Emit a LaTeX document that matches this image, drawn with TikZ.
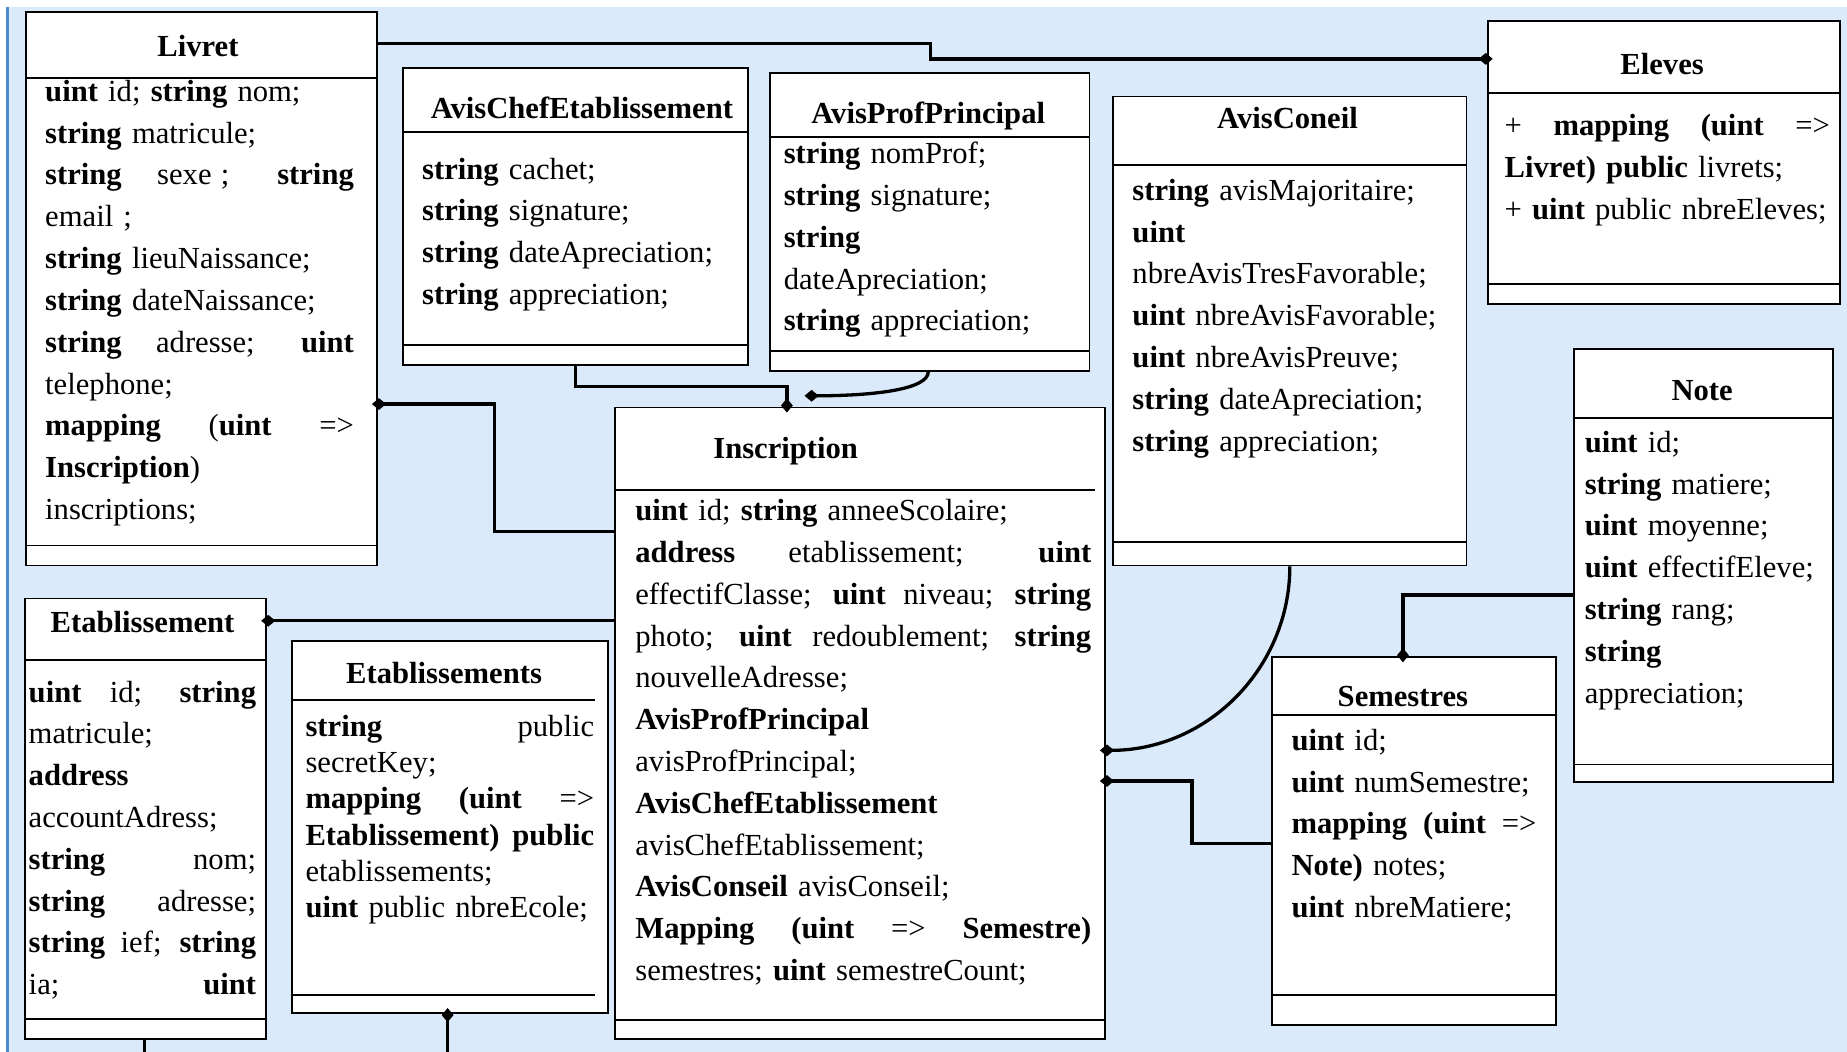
\documentclass[tikz,border=0pt]{standalone}
\usepackage{fontspec}
\setmainfont{Liberation Serif}
\usetikzlibrary{arrows.meta,fit}

\definecolor{canvas}{RGB}{219,234,250}
\definecolor{frameblue}{RGB}{78,136,208}

% a line whose inter-word spaces stretch to the full text width
% (the ragged node alignment makes spaces rigid, so give them stretch again)
\newcommand\jl[1]{\makebox[\linewidth][s]{\spaceskip=.3333em plus 20em\xspaceskip=.3333em plus 20em\relax #1}}

\tikzset{
  classbox/.style={draw=black, line width=0.75pt, fill=white, inner sep=0pt},
  sepline/.style={draw=black, line width=0.75pt},
  classtitle/.style={anchor=base, inner sep=0pt, font=\fontsize{13}{17.75}\selectfont\bfseries},
  attrs/.style={anchor=base west, inner sep=0pt, align=left, font=\fontsize{13}{17.75}\selectfont},
  link/.style={draw=black, line width=1.4pt, line join=miter},
  agg end/.style={-{Diamond[length=6pt,width=5pt]}, shorten >=-2.5pt},
  agg start/.style={{Diamond[length=6pt,width=5pt]}-, shorten <=-2.5pt},
}

\begin{document}
\begin{tikzpicture}[x=0.5pt,y=-0.5pt]
\useasboundingbox (0,0) rectangle (1568,893);

% page background
\fill[white] (0,0) rectangle (1568,893);
\fill[canvas] (7,6) rectangle (1568,893);
\draw[frameblue, line width=1pt] (6.5,6) -- (6.5,893);

% ---------- class boxes ----------
\node[classbox, fit={(22,10) (320,480)}] (livret) {};
\draw[sepline] (22,66) -- (320,66) (22,463) -- (320,463);
\node[classtitle] (livret-t) at (168,48) {Livret};
\node[attrs, text width=131pt] (livret-a) at (38,86) {%
\textbf{uint} id; \textbf{string} nom;\\
\textbf{string} matricule;\\
\jl{\textbf{string} sexe\hspace{.3em}; \textbf{string}}\\
email ;\\
\textbf{string} lieuNaissance;\\
\textbf{string} dateNaissance;\\
\jl{\textbf{string} adresse; \textbf{uint}}\\
telephone;\\
\jl{\textbf{mapping} (\textbf{uint} =>}\\
\textbf{Inscription})\\
inscriptions;};

\node[classbox, fit={(1263,18) (1562,258)}] (eleves) {};
\draw[sepline] (1263,79) -- (1562,79) (1263,241) -- (1562,241);
\node[classtitle] (eleves-t) at (1411,63) {Eleves};
\node[attrs, text width=138pt] (eleves-a) at (1277,115) {%
\jl{+ \textbf{mapping} \textbf{(uint} =>}\\
\textbf{Livret) public} livrets;\\
+ \textbf{uint} public nbreEleves;};

\node[classbox, fit={(342,58) (635,310)}] (avischef) {};
\draw[sepline] (342,112) -- (635,112) (342,293) -- (635,293);
\node[classtitle] (avischef-t) at (494,101) {AvisChefEtablissement};
\node[attrs, text width=135pt] (avischef-a) at (358,152) {%
\textbf{string} cachet;\\
\textbf{string} signature;\\
\textbf{string} dateApreciation;\\
\textbf{string} appreciation;};

\node[classbox, fit={(654,62) (925,315)}] (avisprof) {};
\draw[sepline] (654,116) -- (925,116) (654,298) -- (925,298);
\node[classtitle] (avisprof-t) at (788,105) {AvisProfPrincipal};
\node[attrs, text width=127pt] (avisprof-a) at (665,139) {%
\textbf{string} nomProf;\\
\textbf{string} signature;\\
\textbf{string}\\
dateApreciation;\\
\textbf{string} appreciation;};

\node[classbox, fit={(945,82) (1245,480)}] (avisconseil) {};
\draw[sepline] (945,140) -- (1245,140) (945,460) -- (1245,460);
\node[classtitle] (avisconseil-t) at (1093,109) {AvisConeil};
\node[attrs, text width=137pt] (avisconseil-a) at (961,170) {%
\textbf{string} avisMajoritaire;\\
\textbf{uint}\\
nbreAvisTresFavorable;\\
\textbf{uint} nbreAvisFavorable;\\
\textbf{uint} nbreAvisPreuve;\\
\textbf{string} dateApreciation;\\
\textbf{string} appreciation;};

\node[classbox, fit={(522,346) (938,882)}] (inscription) {};
\draw[sepline] (522,416) -- (930,416) (522,866) -- (938,866);
\node[classtitle] (inscription-t) at (667,389) {Inscription};
\node[attrs, text width=193.5pt] (inscription-a) at (539,442) {%
\textbf{uint} id; \textbf{string} anneeScolaire;\\
\jl{\textbf{address} etablissement; \textbf{uint}}\\
\jl{effectifClasse; \textbf{uint} niveau; \textbf{string}}\\
\jl{photo; \textbf{uint} redoublement; \textbf{string}}\\
nouvelleAdresse;\\
\textbf{AvisProfPrincipal}\\
avisProfPrincipal;\\
\textbf{AvisChefEtablissement}\\
avisChefEtablissement;\\
\textbf{AvisConseil} avisConseil;\\
\jl{\textbf{Mapping (uint} => \textbf{Semestre)}}\\
semestres; \textbf{uint} semestreCount;};

\node[classbox, fit={(1336,296) (1556,664)}] (note) {};
\draw[sepline] (1336,355) -- (1556,355) (1336,649) -- (1556,649);
\node[classtitle] (note-t) at (1445,340) {Note};
\node[attrs, text width=102pt] (note-a) at (1345,384) {%
\textbf{uint} id;\\
\textbf{string} matiere;\\
\textbf{uint} moyenne;\\
\textbf{uint} effectifEleve;\\
\textbf{string} rang;\\
\textbf{string}\\
appreciation;};

\node[classbox, fit={(1080,558) (1321,870)}] (semestres) {};
\draw[sepline] (1080,607) -- (1321,607) (1080,845) -- (1321,845);
\node[classtitle] (semestres-t) at (1191,600) {Semestres};
\node[attrs, text width=104pt] (semestres-a) at (1096,637) {%
\textbf{uint} id;\\
\textbf{uint} numSemestre;\\
\jl{\textbf{mapping} \textbf{(uint} =>}\\
\textbf{Note)} notes;\\
\textbf{uint} nbreMatiere;};

\node[classbox, fit={(21,508) (226,882)}] (etab) {};
\draw[sepline] (21,560) -- (226,560) (21,865) -- (226,865);
\node[classtitle] (etab-t) at (121,537) {Etablissement};
\node[attrs, text width=96.5pt] (etab-a) at (24,596) {%
\jl{\textbf{uint} id; \textbf{string}}\\
matricule;\\
\textbf{address}\\
accountAdress;\\
\jl{\textbf{string} nom;}\\
\jl{\textbf{string} adresse;}\\
\jl{\textbf{string} ief; \textbf{string}}\\
\jl{ia; \textbf{uint}}};

\node[classbox, fit={(248,544) (516,860)}] (etabs) {};
\draw[sepline] (248,594) -- (505,594) (248,845) -- (505,845);
\node[classtitle] (etabs-t) at (377,580) {Etablissements};
\node[attrs, text width=122.5pt, font=\fontsize{13}{15.4}\selectfont] (etabs-a) at (259,625) {%
\jl{\textbf{string} public}\\
secretKey;\\
\jl{\textbf{mapping (uint} =>}\\
\jl{\textbf{Etablissement) public}}\\
etablissements;\\
\textbf{uint} public nbreEcole;};

% ---------- connectors ----------
\coordinate (profend) at (688,336);
\coordinate (etabdown) at (122.5,893);
\coordinate (etabsdown) at (380,893);

\draw[link, agg end] (livret.east |- 0,37) -- (790,37) -- (790,50) -- (eleves.west |- 0,50);
\draw[link, agg start] (livret.east |- 0,343) -- (420,343) -- (420,451) -- (inscription.west |- 0,451);
\draw[link, agg end] (avischef.south) -- (488.5,328) -- (668,328) -- (inscription.north -| 668,0);
\draw[link, agg end] (avisprof.south -| 788,0) .. controls (788,330) and (745,336) .. (profend);
\draw[link, agg end] (avisconseil.south) .. controls (1095,567) and (1025,637) .. (inscription.east |- 0,637);
\draw[link, agg end] (semestres.west |- 0,716) -- (1012,716) -- (1012,663) -- (inscription.east |- 0,663);
\draw[link, agg end] (note.west |- 0,505) -- (1191,505) -- (semestres.north -| 1191,0);
\draw[link, agg end] (inscription.west |- 0,527) -- (etab.east |- 0,527);
\draw[link] (etab.south -| etabdown) -- (etabdown);
\draw[link, agg start] (etabs.south -| etabsdown) -- (etabsdown);

\end{tikzpicture}
\end{document}
